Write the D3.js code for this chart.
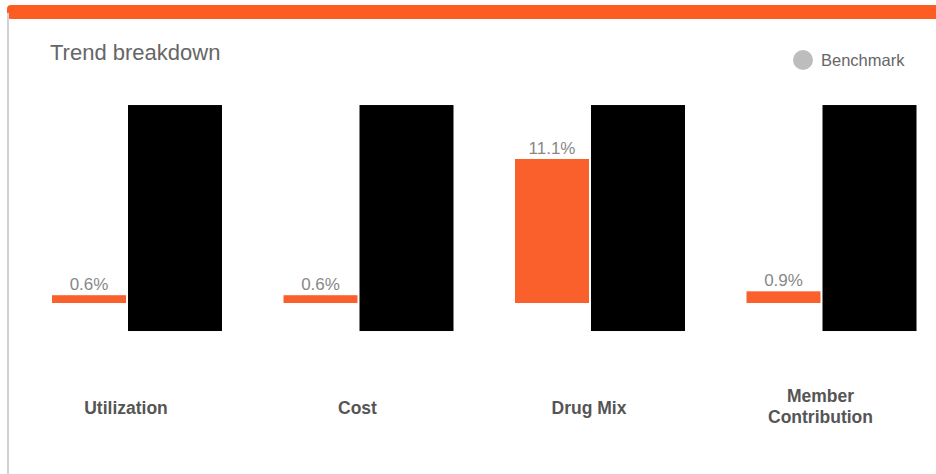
<!DOCTYPE html>
<html>
<head>
<meta charset="utf-8">
<script src="https://cdn.jsdelivr.net/npm/d3@7"></script>
<style>
  html, body { margin: 0; padding: 0; background: #fff; }
  svg { display: block; }
</style>
</head>
<body>
<svg id="chart" width="936" height="474"></svg>
<script>
// ---- data ----
const categories = ["Utilization", "Cost", "Drug Mix", "Member Contribution"];
const trendValues = [0.6, 0.6, 11.1, 0.9];
const valueLabels = ["0.6%", "0.6%", "11.1%", "0.9%"];
const legendLabels = ["Benchmark"];
// benchmark bars are hidden (redacted) in the reference; extent in value units
const benchmarkRedactedRange = [-2.16, 15.26];

// ---- styles ----
const ORANGE = "#f9602b";
const W = 936, H = 474;
const svg = d3.select("#chart");

// card frame
svg.append("rect").attr("x", 7).attr("y", 5).attr("width", 940).attr("height", 14)
  .attr("rx", 4).attr("fill", "#fd5c22");
svg.append("rect").attr("x", 7).attr("y", 13).attr("width", 2).attr("height", H - 13)
  .attr("fill", "#d2d2d2");

// title
svg.append("text").attr("x", 50).attr("y", 60)
  .attr("font-family", "Liberation Sans, Arial, sans-serif")
  .attr("font-size", 22).attr("fill", "#666")
  .text("Trend breakdown");

// legend
const lg = svg.append("g").attr("transform", "translate(803,60)");
lg.append("circle").attr("r", 10).attr("fill", "#bdbdbd");
lg.append("text").attr("x", 18).attr("y", 5.5)
  .attr("font-family", "Liberation Sans, Arial, sans-serif")
  .attr("font-size", 16.5).attr("fill", "#666")
  .text(legendLabels[0]);

// scales
const x = d3.scaleBand().domain(categories).range([10.25, 936.25]).paddingInner(0).paddingOuter(0);
const y = d3.scaleLinear().domain([0, 11.1]).range([303, 159]);
const orangeW = 74, benchW = 94;
const center = c => x(c) + x.bandwidth() / 2;

// trend bars
svg.append("g").selectAll("rect").data(categories).join("rect")
  .attr("x", c => center(c) - orangeW)
  .attr("width", orangeW)
  .attr("y", (c, i) => y(trendValues[i]))
  .attr("height", (c, i) => y(0) - y(trendValues[i]))
  .attr("fill", ORANGE);

// value labels
svg.append("g").selectAll("text").data(categories).join("text")
  .attr("x", c => center(c) - orangeW / 2)
  .attr("y", (c, i) => y(trendValues[i]) - 5)
  .attr("text-anchor", "middle")
  .attr("font-family", "Liberation Sans, Arial, sans-serif")
  .attr("font-size", 17).attr("fill", "#888")
  .text((c, i) => valueLabels[i]);

// benchmark bars (redacted as black boxes)
svg.append("g").selectAll("rect").data(categories).join("rect")
  .attr("x", c => center(c) + 2)
  .attr("width", benchW)
  .attr("y", y(benchmarkRedactedRange[1]))
  .attr("height", y(benchmarkRedactedRange[0]) - y(benchmarkRedactedRange[1]))
  .attr("fill", "#000");

// category labels
const catG = svg.append("g");
categories.forEach(c => {
  const words = c.split(" ");
  const lines = c === "Member Contribution" ? words : [c];
  const t = catG.append("text")
    .attr("text-anchor", "middle")
    .attr("font-family", "Liberation Sans, Arial, sans-serif")
    .attr("font-weight", "bold")
    .attr("font-size", 17.5).attr("fill", "#555");
  const baseY = lines.length === 1 ? 414 : 402;
  lines.forEach((ln, j) => {
    t.append("tspan").attr("x", center(c)).attr("y", baseY + j * 20.5).text(ln);
  });
});
</script>
</body>
</html>
